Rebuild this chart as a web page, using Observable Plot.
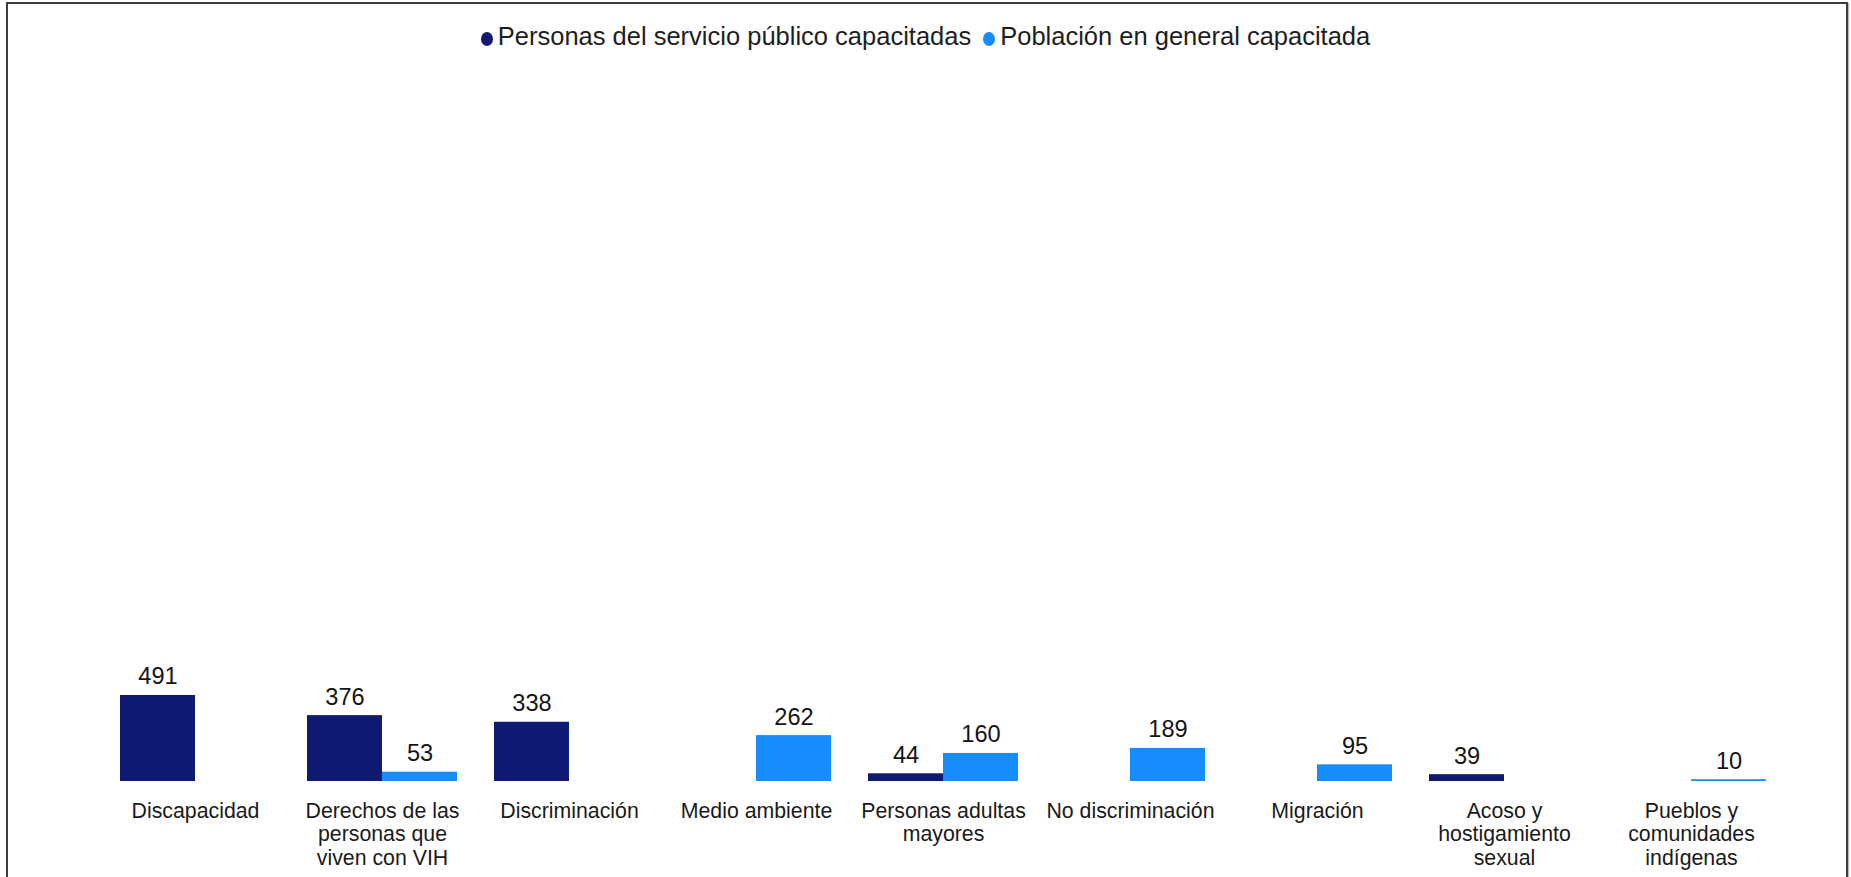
<!DOCTYPE html>
<html>
<head>
<meta charset="utf-8">
<script src="https://cdn.jsdelivr.net/npm/d3@7"></script>
<script src="https://cdn.jsdelivr.net/npm/@observablehq/plot@0.6"></script>
<style>
  html, body { margin: 0; padding: 0; background: #ffffff; }
  body { width: 1851px; height: 877px; overflow: hidden; position: relative;
         font-family: "Liberation Sans", Arial, sans-serif; }
  #frame { position: absolute; left: 6px; top: 2px; width: 1838px; height: 920px;
           border: 2px solid #3c3c3c; box-shadow: 1px 1px 1px #b8b8b8; pointer-events: none; }
  #legend { position: absolute; top: 21px; left: 0; width: 1851px; display: flex;
            justify-content: center; font-size: 25.5px; line-height: 30px; color: #1e1e1e; }
  .item { display: flex; align-items: center; }
  .item + .item { margin-left: 12px; }
  .dot { width: 12px; height: 14px; border-radius: 50%; margin-right: 5px; position: relative; top: 3px; }
  #chart { position: absolute; top: 60px; left: 0; }
</style>
</head>
<body>
<div id="frame"></div>
<div id="legend"></div>
<div id="chart"></div>
<script>
// ---- data ----
const categorias = [
  "Discapacidad",
  "Derechos de las personas que viven con VIH",
  "Discriminación",
  "Medio ambiente",
  "Personas adultas mayores",
  "No discriminación",
  "Migración",
  "Acoso y hostigamiento sexual",
  "Pueblos y comunidades indígenas"
];
const etiquetas = [
  "Discapacidad",
  "Derechos de las\npersonas que\nviven con VIH",
  "Discriminación",
  "Medio ambiente",
  "Personas adultas\nmayores",
  "No discriminación",
  "Migración",
  "Acoso y\nhostigamiento\nsexual",
  "Pueblos y\ncomunidades\nindígenas"
];
const series = ["Personas del servicio público capacitadas", "Población en general capacitada"];
const servicioPublico = [491, 376, 338, null, 44, null, null, 39, null];
const poblacionGeneral = [null, 53, null, 262, 160, 189, 95, null, 10];
const colores = ["#101a73", "#168cff"];
const yMax = 4115;

// ---- table ----
const filas = [];
categorias.forEach((c, i) => {
  filas.push({categoria: c, serie: series[0], valor: servicioPublico[i]});
  filas.push({categoria: c, serie: series[1], valor: poblacionGeneral[i]});
});
const conValor = filas.filter(d => d.valor != null);

// ---- legend ----
const legend = document.getElementById("legend");
series.forEach((s, i) => {
  const it = document.createElement("div");
  it.className = "item";
  const dot = document.createElement("span");
  dot.className = "dot";
  dot.style.background = colores[i];
  const t = document.createElement("span");
  t.textContent = s;
  it.appendChild(dot);
  it.appendChild(t);
  legend.appendChild(it);
});

// ---- chart ----
const chart = Plot.plot({
  width: 1851,
  height: 817,
  marginLeft: 100,
  marginRight: 66,
  marginTop: 0,
  marginBottom: 96,
  style: {fontFamily: "'Liberation Sans', Arial, sans-serif", background: "transparent", overflow: "visible"},
  fx: {domain: categorias, paddingInner: 0.2, paddingOuter: 0.1, axis: null, label: null},
  x: {domain: series, padding: 0, axis: null},
  y: {domain: [0, yMax], axis: null},
  color: {domain: series, range: colores},
  marks: [
    Plot.barY(conValor, {fx: "categoria", x: "serie", y: "valor", fill: "serie"}),
    Plot.text(conValor, {
      fx: "categoria", x: "serie", y: "valor", text: d => String(d.valor),
      lineAnchor: "bottom", dy: -11, fontSize: 23.6, fill: "#141414"
    }),
    Plot.text(categorias, {
      fx: d => d, y: () => 0, text: (d, i) => etiquetas[i],
      lineAnchor: "top", dy: 19.5, lineHeight: 1.11, fontSize: 21.3, fill: "#1a1a1a"
    })
  ]
});
document.getElementById("chart").appendChild(chart);
</script>
</body>
</html>
